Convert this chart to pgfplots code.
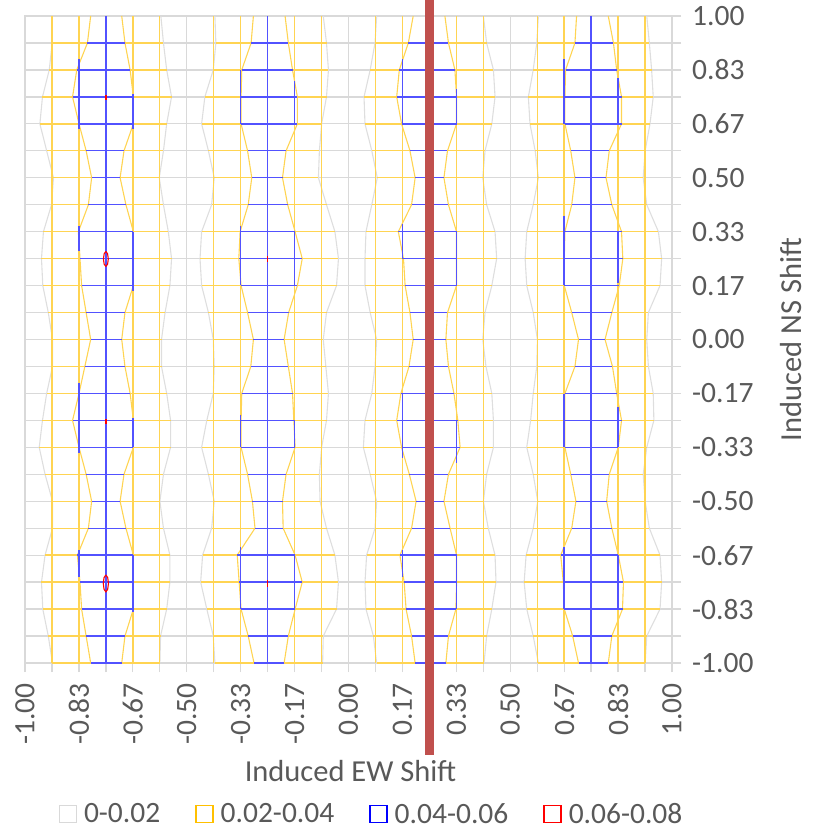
\documentclass[border=0pt]{standalone}
\usepackage{pgfplots}
\pgfplotsset{compat=1.18}
\usepackage{pgfplotstable}
\usepackage{fontspec}
\setmainfont{Carlito}
\newcommand\tf{\fontsize{29.5}{34}\selectfont}
\newcommand\lf{\fontsize{30.5}{36}\selectfont}
\definecolor{gridc}{HTML}{D9D9D9}
\definecolor{contc}{HTML}{DEDEDE}
\definecolor{txt}{HTML}{595959}
\definecolor{ylwc}{HTML}{FFC000}
\definecolor{bluc}{HTML}{0000FF}
\definecolor{redc}{HTML}{FF0000}
\definecolor{barc}{HTML}{C0504D}
\colorlet{ylw}{ylwc!68!white}
\colorlet{blu}{bluc!68!white}

% contour crossings per mesh row: outer (0.02) left/right, inner (0.04) left/right
\pgfplotstableread{
y lo li ri ro
1.000000 -0.916 -0.797 -0.701 -0.580
0.916667 -0.916 -0.807 -0.691 -0.572
0.833333 -0.925 -0.840 -0.675 -0.562
0.750000 -0.946 -0.853 -0.665 -0.547
0.666667 -0.954 -0.833 -0.665 -0.562
0.583333 -0.933 -0.811 -0.694 -0.572
0.500000 -0.912 -0.794 -0.706 -0.585
0.416667 -0.918 -0.804 -0.688 -0.572
0.333333 -0.943 -0.835 -0.665 -0.557
0.250000 -0.949 -0.830 -0.665 -0.547
0.166667 -0.945 -0.825 -0.665 -0.552
0.083333 -0.928 -0.811 -0.691 -0.567
0.000000 -0.915 -0.797 -0.701 -0.578
-0.083333 -0.915 -0.815 -0.691 -0.578
-0.166667 -0.933 -0.833 -0.675 -0.562
-0.250000 -0.946 -0.853 -0.665 -0.550
-0.333333 -0.956 -0.833 -0.665 -0.550
-0.416667 -0.938 -0.811 -0.694 -0.572
-0.500000 -0.915 -0.794 -0.706 -0.583
-0.583333 -0.915 -0.804 -0.688 -0.572
-0.666667 -0.938 -0.838 -0.665 -0.552
-0.750000 -0.949 -0.830 -0.665 -0.552
-0.833333 -0.945 -0.825 -0.665 -0.562
-0.916667 -0.928 -0.811 -0.691 -0.581
-1.000000 -0.915 -0.797 -0.701 -0.583
}\tA

\pgfplotstableread{
y lo li ri ro
1.000000 -0.413 -0.294 -0.196 -0.078
0.916667 -0.410 -0.301 -0.186 -0.068
0.833333 -0.418 -0.330 -0.173 -0.062
0.750000 -0.444 -0.332 -0.158 -0.068
0.666667 -0.454 -0.332 -0.158 -0.083
0.583333 -0.433 -0.312 -0.193 -0.090
0.500000 -0.415 -0.299 -0.204 -0.093
0.416667 -0.423 -0.310 -0.188 -0.068
0.333333 -0.454 -0.335 -0.165 -0.042
0.250000 -0.459 -0.339 -0.143 -0.031
0.166667 -0.454 -0.332 -0.158 -0.037
0.083333 -0.433 -0.312 -0.185 -0.068
0.000000 -0.418 -0.294 -0.199 -0.078
-0.083333 -0.415 -0.302 -0.186 -0.070
-0.166667 -0.418 -0.330 -0.173 -0.062
-0.250000 -0.438 -0.332 -0.169 -0.068
-0.333333 -0.454 -0.332 -0.165 -0.083
-0.416667 -0.433 -0.312 -0.193 -0.090
-0.500000 -0.415 -0.297 -0.204 -0.088
-0.583333 -0.423 -0.289 -0.202 -0.068
-0.666667 -0.451 -0.344 -0.165 -0.042
-0.750000 -0.457 -0.338 -0.143 -0.031
-0.833333 -0.438 -0.332 -0.165 -0.037
-0.916667 -0.418 -0.310 -0.186 -0.078
-1.000000 -0.413 -0.292 -0.199 -0.080
}\tB

\pgfplotstableread{
y lo li ri ro
1.000000 0.087 0.200 0.298 0.417
0.916667 0.082 0.185 0.309 0.427
0.833333 0.067 0.157 0.329 0.448
0.750000 0.048 0.149 0.334 0.453
0.666667 0.051 0.164 0.334 0.443
0.583333 0.072 0.190 0.306 0.422
0.500000 0.089 0.206 0.295 0.415
0.416667 0.072 0.195 0.309 0.427
0.333333 0.054 0.154 0.334 0.453
0.250000 0.051 0.170 0.334 0.458
0.166667 0.051 0.175 0.334 0.443
0.083333 0.067 0.190 0.306 0.422
0.000000 0.087 0.200 0.301 0.415
-0.083333 0.082 0.187 0.309 0.425
-0.166667 0.072 0.162 0.326 0.443
-0.250000 0.051 0.149 0.338 0.448
-0.333333 0.046 0.164 0.345 0.448
-0.416667 0.067 0.188 0.309 0.427
-0.500000 0.087 0.209 0.295 0.417
-0.583333 0.082 0.195 0.314 0.432
-0.666667 0.056 0.159 0.334 0.453
-0.750000 0.051 0.172 0.334 0.456
-0.833333 0.054 0.178 0.332 0.443
-0.916667 0.077 0.195 0.309 0.427
-1.000000 0.087 0.206 0.301 0.419
}\tC

\pgfplotstableread{
y lo li ri ro
1.000000 0.587 0.705 0.803 0.922
0.916667 0.582 0.700 0.819 0.930
0.833333 0.571 0.671 0.829 0.937
0.750000 0.556 0.669 0.844 0.942
0.666667 0.561 0.669 0.844 0.932
0.583333 0.577 0.687 0.806 0.917
0.500000 0.587 0.700 0.796 0.911
0.416667 0.571 0.690 0.814 0.922
0.333333 0.551 0.669 0.844 0.958
0.250000 0.546 0.667 0.848 0.968
0.166667 0.551 0.667 0.837 0.963
0.083333 0.571 0.690 0.814 0.927
0.000000 0.584 0.711 0.793 0.922
-0.083333 0.582 0.700 0.816 0.927
-0.166667 0.571 0.669 0.829 0.942
-0.250000 0.563 0.669 0.844 0.944
-0.333333 0.551 0.669 0.834 0.922
-0.416667 0.571 0.687 0.806 0.911
-0.500000 0.585 0.703 0.798 0.917
-0.583333 0.571 0.690 0.814 0.930
-0.666667 0.549 0.656 0.834 0.963
-0.750000 0.543 0.664 0.850 0.968
-0.833333 0.551 0.667 0.847 0.963
-0.916667 0.571 0.693 0.814 0.922
-1.000000 0.587 0.711 0.803 0.917
}\tD

% full-height mesh lines
\pgfplotstableread{
x yt yb
-0.916667 1 -1
-0.833333 1 -1
-0.666667 1 -1
-0.583333 1 -1
-0.416667 1 -1
-0.333333 1 -1
-0.166667 1 -1
-0.083333 1 -1
0.083333 1 -1
0.166667 1 -1
0.333333 1 -1
0.416667 1 -1
0.583333 1 -1
0.666667 1 -1
0.833333 1 -1
0.916667 1 -1
}\vY

\pgfplotstableread{
x yt yb
-0.75 1 -1
-0.25 1 -1
0.25 1 -1
0.75 1 -1
}\vB

% parts of the side mesh lines inside the 0.04 contour
\pgfplotstableread{
x yt yb
-0.833333 0.867 0.650
-0.833333 0.350 0.275
-0.833333 -0.133 -0.350
-0.833333 -0.650 -0.733
-0.666667 0.758 0.650
-0.666667 0.333 0.150
-0.666667 -0.242 -0.333
-0.666667 -0.667 -0.842
-0.333333 0.833 0.667
-0.333333 0.350 0.167
-0.333333 -0.233 -0.333
-0.333333 -0.642 -0.833
-0.166667 0.800 0.667
-0.166667 0.333 0.167
-0.166667 -0.250 -0.333
-0.166667 -0.667 -0.833
0.166667 0.867 0.667
0.166667 0.358 0.250
0.166667 -0.167 -0.367
0.166667 -0.650 -0.733
0.333333 0.775 0.667
0.333333 0.333 0.167
0.333333 -0.250 -0.383
0.333333 -0.667 -0.833
0.666667 0.867 0.667
0.666667 0.383 0.167
0.666667 -0.167 -0.333
0.666667 -0.642 -0.833
0.833333 0.808 0.667
0.833333 0.333 0.175
0.833333 -0.208 -0.333
0.833333 -0.667 -0.833
}\bS

\pgfplotsset{
  gc/.style={draw=contc, line width=1.1pt, forget plot},
  yc/.style={draw=ylw, line width=1.1pt, forget plot},
  ym/.style={draw=ylw, line width=1.4pt, forget plot},
  bc/.style={draw=blu, line width=1.4pt, forget plot},
  rc/.style={draw=redc, line width=1.1pt, forget plot},
  ly/.style={ym, skip coords between index={0}{1}, quiver={u=\thisrow{li}-(\thisrow{lo}), v=0}},
  ry/.style={ym, skip coords between index={0}{1}, quiver={u=\thisrow{ro}-(\thisrow{ri}), v=0}},
  mb/.style={bc, skip coords between index={0}{1}, quiver={u=\thisrow{ri}-(\thisrow{li}), v=0}},
  vq/.style={quiver={u=0, v=\thisrow{yb}-(\thisrow{yt})}},
}

\begin{document}
\begin{tikzpicture}
\useasboundingbox (-25pt,-168pt) rectangle (790pt,663pt);
\begin{axis}[
  at={(0pt,0pt)}, anchor=south west,
  width=647pt, height=647pt, scale only axis,
  xmin=-1, xmax=1, ymin=-1, ymax=1,
  clip=false,
  xtick={-1,-0.833333,-0.666667,-0.5,-0.333333,-0.166667,0,0.166667,0.333333,0.5,0.666667,0.833333,1},
  ytick={-1,-0.833333,-0.666667,-0.5,-0.333333,-0.166667,0,0.166667,0.333333,0.5,0.666667,0.833333,1},
  minor xtick={-0.916667,-0.75,-0.583333,-0.416667,-0.25,-0.083333,0.083333,0.25,0.416667,0.583333,0.75,0.916667},
  minor ytick={-0.916667,-0.75,-0.583333,-0.416667,-0.25,-0.083333,0.083333,0.25,0.416667,0.583333,0.75,0.916667},
  grid=both,
  major grid style={draw=gridc, line width=1.3pt},
  minor grid style={draw=gridc, line width=1.3pt},
  axis line style={draw=gridc, line width=1.3pt},
  tick style={draw=gridc, line width=1.3pt},
  tick align=outside,
  major tick length=9pt, minor tick length=9pt,
  xtick pos=left, ytick pos=right, yticklabel pos=right,
  xticklabel style={rotate=90, anchor=east, font=\tf, text=txt, inner sep=0pt,
    /pgf/number format/fixed, /pgf/number format/fixed zerofill,
    /pgf/number format/precision=2, /pgf/number format/assume math mode=true},
  yticklabel style={anchor=west, font=\tf, text=txt, inner sep=0pt,
    /pgf/number format/fixed, /pgf/number format/fixed zerofill,
    /pgf/number format/precision=2, /pgf/number format/assume math mode=true},
  xticklabel shift=11pt, yticklabel shift=11pt,
  xlabel={Induced EW Shift}, ylabel={Induced NS Shift},
  every axis x label/.style={at={(rel axis cs:0.5,0)}, anchor=base, yshift=-118pt, xshift=2pt, font=\lf, text=txt},
  every axis y label/.style={at={(rel axis cs:1,0.5)}, xshift=119pt, rotate=90, anchor=center, font=\lf, text=txt},
  legend image code/.code={\draw[#1, line width=1.4pt] (0pt,-8.5pt) rectangle (17pt,8.5pt);},
  legend columns=4,
  legend style={at={(0.5,0)}, anchor=center, xshift=22pt, yshift=-151pt, draw=none, fill=none,
    font=\tf, text=txt, nodes={inner sep=0pt},
    /tikz/every even column/.append style={column sep=35pt},
    /tikz/every odd column/.append style={column sep=7pt}},
]
\addlegendimage{draw=gridc}
\addlegendentry{0-0.02}
\addlegendimage{draw=ylwc}
\addlegendentry{0.02-0.04}
\addlegendimage{draw=bluc}
\addlegendentry{0.04-0.06}
\addlegendimage{draw=redc}
\addlegendentry{0.06-0.08}

% 0.02 contours
\addplot[gc] table[x=lo, y=y] {\tA};
\addplot[gc] table[x=ro, y=y] {\tA};
\addplot[gc] table[x=lo, y=y] {\tB};
\addplot[gc] table[x=ro, y=y] {\tB};
\addplot[gc] table[x=lo, y=y] {\tC};
\addplot[gc] table[x=ro, y=y] {\tC};
\addplot[gc] table[x=lo, y=y] {\tD};
\addplot[gc] table[x=ro, y=y] {\tD};

% yellow mesh lines and 0.04 contours
\addplot[ym, vq] table[x=x, y=yt] {\vY};
\addplot[ly] table[x=lo, y=y] {\tA};
\addplot[ry] table[x=ri, y=y] {\tA};
\addplot[ly] table[x=lo, y=y] {\tB};
\addplot[ry] table[x=ri, y=y] {\tB};
\addplot[ly] table[x=lo, y=y] {\tC};
\addplot[ry] table[x=ri, y=y] {\tC};
\addplot[ly] table[x=lo, y=y] {\tD};
\addplot[ry] table[x=ri, y=y] {\tD};
\addplot[yc] table[x=li, y=y] {\tA};
\addplot[yc] table[x=ri, y=y] {\tA};
\addplot[yc] table[x=li, y=y] {\tB};
\addplot[yc] table[x=ri, y=y] {\tB};
\addplot[yc] table[x=li, y=y] {\tC};
\addplot[yc] table[x=ri, y=y] {\tC};
\addplot[yc] table[x=li, y=y] {\tD};
\addplot[yc] table[x=ri, y=y] {\tD};

% blue mesh lines
\addplot[bc, vq] table[x=x, y=yt] {\vB};
\addplot[mb] table[x=li, y=y] {\tA};
\addplot[mb] table[x=li, y=y] {\tB};
\addplot[mb] table[x=li, y=y] {\tC};
\addplot[mb] table[x=li, y=y] {\tD};
\addplot[bc, vq] table[x=x, y=yt] {\bS};

% 0.06 contours
\addplot[rc] coordinates {(-0.75,0.272) (-0.7447,0.2651) (-0.7425,0.249) (-0.7447,0.2329) (-0.75,0.226) (-0.7553,0.2329) (-0.7575,0.249) (-0.7553,0.2651) (-0.75,0.272)};
\addplot[rc] coordinates {(-0.75,-0.728) (-0.7444,-0.7358) (-0.742,-0.754) (-0.7444,-0.7722) (-0.75,-0.780) (-0.7556,-0.7722) (-0.758,-0.754) (-0.7556,-0.7358) (-0.75,-0.728)};
\addplot[rc, line width=1.3pt] coordinates {(-0.75,0.755) (-0.75,0.741)};
\addplot[rc, line width=1.3pt] coordinates {(-0.75,-0.246) (-0.75,-0.260)};
\addplot[rc, line width=1.5pt] coordinates {(-0.25,0.258) (-0.25,0.240)};
\addplot[rc, line width=1.5pt] coordinates {(-0.25,-0.743) (-0.25,-0.765)};

% marker bar
\addplot[draw=barc, line width=9.5pt, forget plot] coordinates {(0.25,1.0495) (0.25,-1.2844)};
\end{axis}
\end{tikzpicture}
\end{document}
